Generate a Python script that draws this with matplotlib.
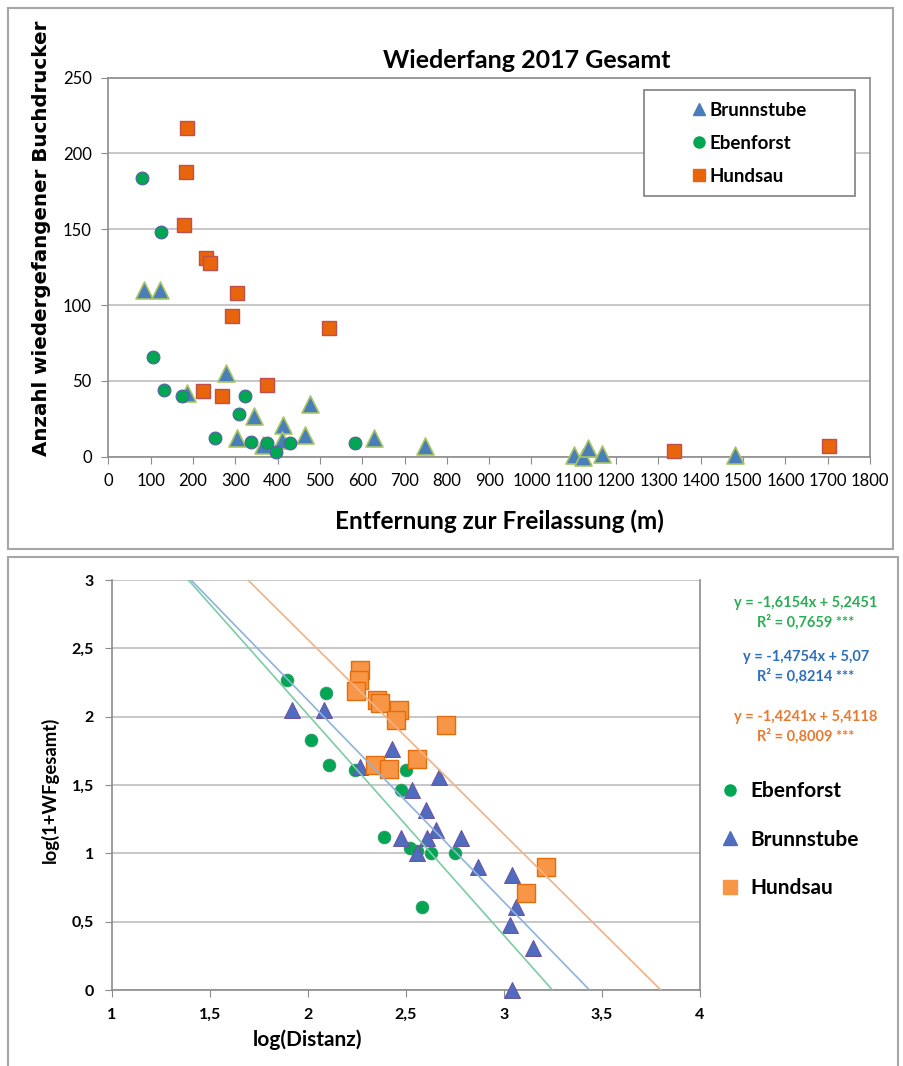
import matplotlib
matplotlib.use('Agg')
import matplotlib.pyplot as plt
from matplotlib.lines import Line2D
from matplotlib.patches import Rectangle
from matplotlib.ticker import MultipleLocator
import numpy as np

plt.rcParams['font.family'] = ['Lato', 'DejaVu Sans']

# =====Daten oben: Entfernung zur Freilassung (m) / Anzahl Wiederfang
brunn_dist = [85, 122, 186, 277, 344, 477, 305, 413, 411, 466, 366, 627, 749, 1101, 1122, 1133, 1167, 1482]
brunn_n = [110, 110, 42, 55, 27, 35, 12, 21, 11, 14, 8, 12, 7, 1, 0, 6, 2, 1]
eben_dist = [80, 124, 105, 131, 175, 324, 309, 251, 338, 375, 396, 430, 582]
eben_n = [184, 148, 66, 44, 40, 40, 28, 12, 10, 9, 3, 9, 9]
hund_dist = [186, 183, 179, 230, 240, 303, 293, 521, 223, 268, 374, 1337, 1702]
hund_n = [217, 188, 153, 131, 128, 108, 93, 85, 43, 40, 47, 4, 7]

# =====Daten unten: log(Distanz) / log(1+WFgesamt)
eben_logx = [1.895, 2.09, 2.014, 2.107, 2.242, 2.50, 2.476, 2.39, 2.518, 2.558, 2.626, 2.75, 2.584]
eben_logy = [2.27, 2.17, 1.83, 1.65, 1.61, 1.61, 1.46, 1.12, 1.04, 1.02, 1.00, 1.00, 0.61]
brunn_logx = [1.92, 2.081, 2.264, 2.428, 2.669, 2.529, 2.603, 2.653, 2.476, 2.606, 2.78, 2.558,
              2.868, 3.042, 3.059, 3.03, 3.15, 3.04]
brunn_logy = [2.05, 2.05, 1.63, 1.76, 1.56, 1.46, 1.32, 1.17, 1.11, 1.11, 1.11, 1.00,
              0.90, 0.84, 0.61, 0.475, 0.305, 0.0]
hund_logx = [2.264, 2.259, 2.245, 2.354, 2.365, 2.465, 2.448, 2.702, 2.557, 2.344, 2.411, 3.212, 3.11]
hund_logy = [2.34, 2.27, 2.19, 2.12, 2.10, 2.05, 1.975, 1.94, 1.69, 1.65, 1.62, 0.90, 0.71]

# Achsenbeschriftung unten (Dezimalkomma)
log_ticks = [0, 0.5, 1, 1.5, 2, 2.5, 3, 3.5, 4]
log_labels = ['0', '0,5', '1', '1,5', '2', '2,5', '3', '3,5', '4']

# Trendlinien (Steigung, Achsenabschnitt) wie im Diagramm angegeben
trend_eben = (-1.6154, 5.2451)
trend_brunn = (-1.4754, 5.07)
trend_hund = (-1.4241, 5.4118)
eq_text = [('y = -1,6154x + 5,2451', 'R² = 0,7659 ***', '#2BAE55'),
           ('y = -1,4754x + 5,07', 'R² = 0,8214 ***', '#2E6FBA'),
           ('y = -1,4241x + 5,4118', 'R² = 0,8009 ***', '#E97A2E')]

W, H = 904, 1066
fig = plt.figure(figsize=(W / 100, H / 100), dpi=100)


def fx(px):
    return px / W


def fy(py):
    return 1 - py / H


# äußere Rahmen
fig.patches.append(Rectangle((fx(8), fy(549)), fx(885), 541 / H, transform=fig.transFigure,
                             fill=False, edgecolor='#A6A6A6', lw=1.5))
fig.patches.append(Rectangle((fx(8), fy(1075)), fx(890), 518 / H, transform=fig.transFigure,
                             fill=False, edgecolor='#A6A6A6', lw=1.5))

grid_c = '#BDBDBD'
spine_c = '#8C8C8C'

# =====oberes Diagramm
ax1 = fig.add_axes([fx(108.3), fy(456.7), fx(870 - 108.3), (456.7 - 77.5) / H])
ax1.set_xlim(0, 1800)
ax1.set_ylim(0, 250)
ax1.xaxis.set_major_locator(MultipleLocator(100))
ax1.yaxis.set_major_locator(MultipleLocator(50))
ax1.yaxis.grid(True, color=grid_c, lw=1.2)
ax1.set_axisbelow(True)
for s in ax1.spines.values():
    s.set_color(spine_c)
    s.set_linewidth(1.2)
ax1.tick_params(direction='out', length=5, color=spine_c, labelsize=12, pad=7)
ax1.scatter(brunn_dist, brunn_n, marker='^', s=150, c='#4A7EBB', edgecolors='#A8C560', linewidths=1.2,
            zorder=3, clip_on=False)
ax1.scatter(eben_dist, eben_n, marker='o', s=85, c='#00A651', edgecolors='#5A5EA8', linewidths=0.8,
            zorder=4, clip_on=False)
ax1.scatter(hund_dist, hund_n, marker='s', s=100, c='#E8650C', edgecolors='#C0504D', linewidths=1.0,
            zorder=5, clip_on=False)

fig.text(fx(527), fy(60), 'Wiederfang 2017 Gesamt', ha='center', va='center', fontsize=18, fontweight='bold')
fig.text(fx(499), fy(521), 'Entfernung zur Freilassung (m)', ha='center', va='center', fontsize=17.5,
         fontweight='bold')
fig.text(fx(42), fy(238), 'Anzahl wiedergefangener Buchdrucker', ha='center', va='center', rotation=90,
         fontsize=14.3, fontweight='bold', family=['DejaVu Sans'])

fig.patches.append(Rectangle((fx(644), fy(196)), fx(211), 106 / H, transform=fig.transFigure,
                             facecolor='white', edgecolor='#7F7F7F', lw=1.2, zorder=4))
h1 = [Line2D([], [], ls='none', marker='^', ms=8, color='#4A7EBB'),
      Line2D([], [], ls='none', marker='o', ms=8, color='#00A651'),
      Line2D([], [], ls='none', marker='s', ms=8, color='#E8650C')]
fig.legend(h1, ['Brunnstube', 'Ebenforst', 'Hundsau'], loc='upper left',
           bbox_to_anchor=(fx(692), fy(102)), frameon=False, borderpad=0, borderaxespad=0,
           handlelength=0.8, handletextpad=0.15, labelspacing=0.84,
           prop={'weight': 'bold', 'size': 13.5})

# =====unteres Diagramm
ax2 = fig.add_axes([fx(112), fy(990), fx(700 - 112), (990 - 580) / H])
ax2.set_xticks(log_ticks[2:], log_labels[2:], fontweight='bold')
ax2.set_yticks(log_ticks[:7], log_labels[:7], fontweight='bold')
ax2.set_xlim(1, 4)
ax2.set_ylim(0, 3)
ax2.yaxis.grid(True, color=grid_c, lw=1.2)
ax2.set_axisbelow(True)
ax2.spines['top'].set_visible(False)
for k in ['left', 'bottom', 'right']:
    ax2.spines[k].set_color(spine_c)
    ax2.spines[k].set_linewidth(1.2)
ax2.tick_params(direction='out', length=5, color=spine_c, labelsize=11.5, pad=8)

ax2.scatter(eben_logx, eben_logy, marker='o', s=80, c='#00A651', edgecolors='#2E9E68', linewidths=0.8, zorder=3)
ax2.scatter(brunn_logx, brunn_logy, marker='^', s=130, c='#4F6CBF', edgecolors='#6A55A5', linewidths=0.8,
            zorder=4, clip_on=False)
ax2.scatter(hund_logx, hund_logy, marker='s', s=170, c='#F79646', edgecolors='#E46C0A', linewidths=1.0,
            zorder=5)

xx = np.array([1.0, 4.0])
for (m, b), col in zip([trend_eben, trend_brunn, trend_hund], ['#7CCCA4', '#8DB2DD', '#F2B184']):
    ax2.plot(xx, m * xx + b, color=col, lw=1.2, zorder=6)

for i, (l1, l2, col) in enumerate(eq_text):
    y0 = [603, 657, 717][i]
    fig.text(fx(806), fy(y0), l1, ha='center', va='center', color=col, fontsize=10.5, fontweight='bold')
    fig.text(fx(806), fy(y0 + 19), l2, ha='center', va='center', color=col, fontsize=10.5, fontweight='bold')

fig.text(fx(308), fy(1040), 'log(Distanz)', ha='center', va='center', fontsize=15, fontweight='bold')
fig.text(fx(50), fy(790), 'log(1+WFgesamt)', ha='center', va='center', rotation=90, fontsize=13.3,
         fontweight='bold')

h2 = [Line2D([], [], ls='none', marker='o', ms=8, color='#00A651'),
      Line2D([], [], ls='none', marker='^', ms=10, color='#4F6CBF'),
      Line2D([], [], ls='none', marker='s', ms=10, color='#F79646')]
fig.legend(h2, ['Ebenforst', 'Brunnstube', 'Hundsau'], loc='upper left',
           bbox_to_anchor=(fx(724), fy(781)), frameon=False, borderpad=0, borderaxespad=0,
           handlelength=0.6, handletextpad=0.67, labelspacing=1.38,
           prop={'weight': 'bold', 'size': 15})

fig.savefig('out.png', dpi=100)
